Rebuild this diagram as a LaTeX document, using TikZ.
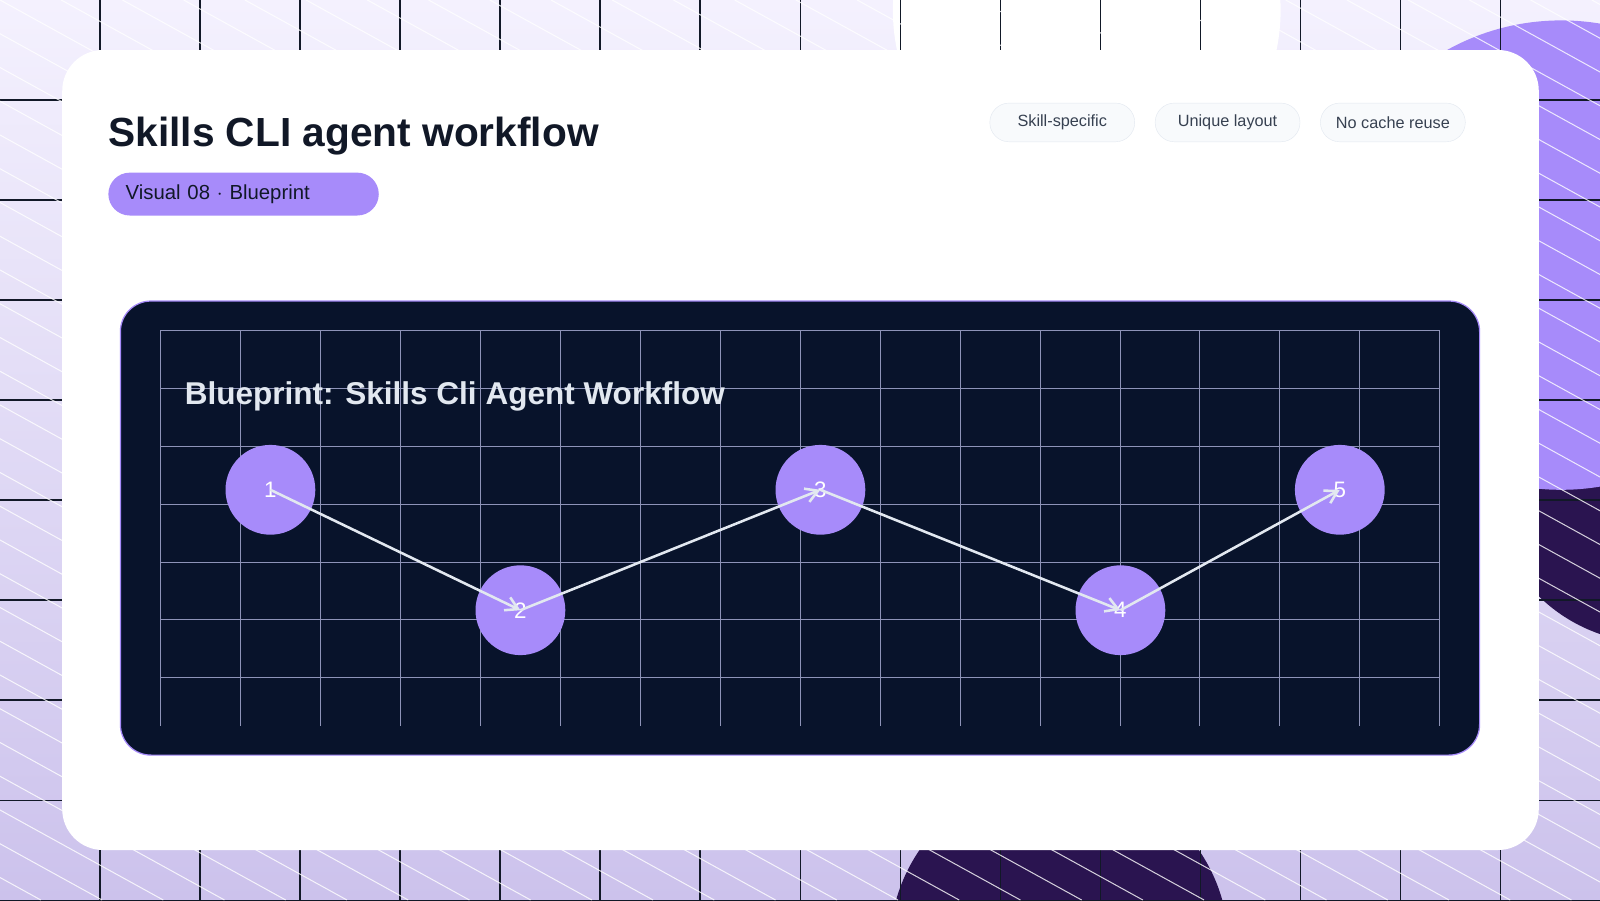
\documentclass[tikz,border=0pt]{standalone}
\usepackage{fontspec}
\setmainfont{Liberation Sans}
\usetikzlibrary{arrows.meta}

\definecolor{inkdark}{HTML}{111827}
\definecolor{bgtop}{HTML}{F4F1FE}
\definecolor{bgbot}{HTML}{CCC2EC}
\definecolor{violet}{HTML}{A78BFA}
\definecolor{plum}{HTML}{2A1450}
\definecolor{navy}{HTML}{08132B}
\definecolor{gridline}{HTML}{8E93B8}
\definecolor{chipfill}{HTML}{F8FAFC}
\definecolor{chipline}{HTML}{E2E8F0}
\definecolor{chiptext}{HTML}{374151}
\definecolor{paletext}{HTML}{E2E8F0}

\tikzset{
  chip/.style={draw=chipline, fill=chipfill, rounded corners=19bp, minimum width=142bp,
    minimum height=38bp, text=chiptext, font=\fontsize{16}{18}\selectfont},
  stepdot/.style={circle, fill=violet, minimum size=88bp, inner sep=0pt, text=white,
    font=\fontsize{22}{24}\selectfont},
  flow/.style={draw=paletext, line width=2.5bp, -{Straight Barb[length=12bp,width=14bp]}}
}

\begin{document}
\begin{tikzpicture}[x=1bp, y=-1bp]
\useasboundingbox (0,0) rectangle (1568,882);

% backdrop
\shade[top color=bgtop, bottom color=bgbot] (0,0) rectangle (1568,882);
\begin{scope}
  \clip (0,0) rectangle (1568,882);
  \fill[white] (1065,10) circle (190);
  \fill[plum] (1620,470) circle (160);
  \fill[violet] (1530,250) circle (230);
  \fill[plum] (1038,927) circle (166);
  \foreach \x in {98,196,...,1568} \draw[inkdark, line width=1bp] (\x,0) -- (\x,882);
  \foreach \y in {98,196,...,882} \draw[inkdark, line width=1bp] (0,\y) -- (1568,\y);
  \foreach \k in {-1800,-1740,...,1568} \draw[white, line width=1bp, opacity=0.8] (\k,0) -- (\k+1600,882);
\end{scope}

% card
\fill[white, rounded corners=40bp] (61,49) rectangle (1508,833);

% header
\node[anchor=base west, inner sep=0pt, text=inkdark, font=\bfseries\fontsize{40}{46}\selectfont]
  (title) at (106,144) {Skills CLI agent workflow};
\node[anchor=north west, fill=violet, rounded corners=21bp, minimum width=265bp, minimum height=42bp,
  text=inkdark, font=\fontsize{20}{22}\selectfont, text width=231bp, align=left]
  (badge) at (106,169) {Visual 08 $\cdot$ Blueprint};
\node[chip] (chipa) at (1041,120) {Skill-specific};
\node[chip] (chipb) at (1203,120) {Unique layout};
\node[chip] (chipc) at (1365,120) {No cache reuse};

% blueprint panel
\filldraw[fill=navy, draw=violet, line width=1.2bp, rounded corners=30bp] (118,295) rectangle (1450,740);
\foreach \i in {0,...,16} \draw[gridline, line width=0.8bp] (157+78.375*\i,324) -- (157+78.375*\i,711);
\foreach \j in {0,...,6} \draw[gridline, line width=0.8bp] (157,324+56.7*\j) -- (1411,324+56.7*\j);
\node[anchor=base west, inner sep=0pt, text=paletext, font=\bfseries\fontsize{31}{36}\selectfont]
  (bptitle) at (181,396) {Blueprint: Skills Cli Agent Workflow};

% steps
\node[stepdot] (s1) at (265,480) {1};
\node[stepdot] (s2) at (510,598) {2};
\node[stepdot] (s3) at (804,480) {3};
\node[stepdot] (s4) at (1098,598) {4};
\node[stepdot] (s5) at (1313,480) {5};
\draw[flow] (s1.center) -- (s2.center);
\draw[flow] (s2.center) -- (s3.center);
\draw[flow] (s3.center) -- (s4.center);
\draw[flow] (s4.center) -- (s5.center);
\end{tikzpicture}
\end{document}
